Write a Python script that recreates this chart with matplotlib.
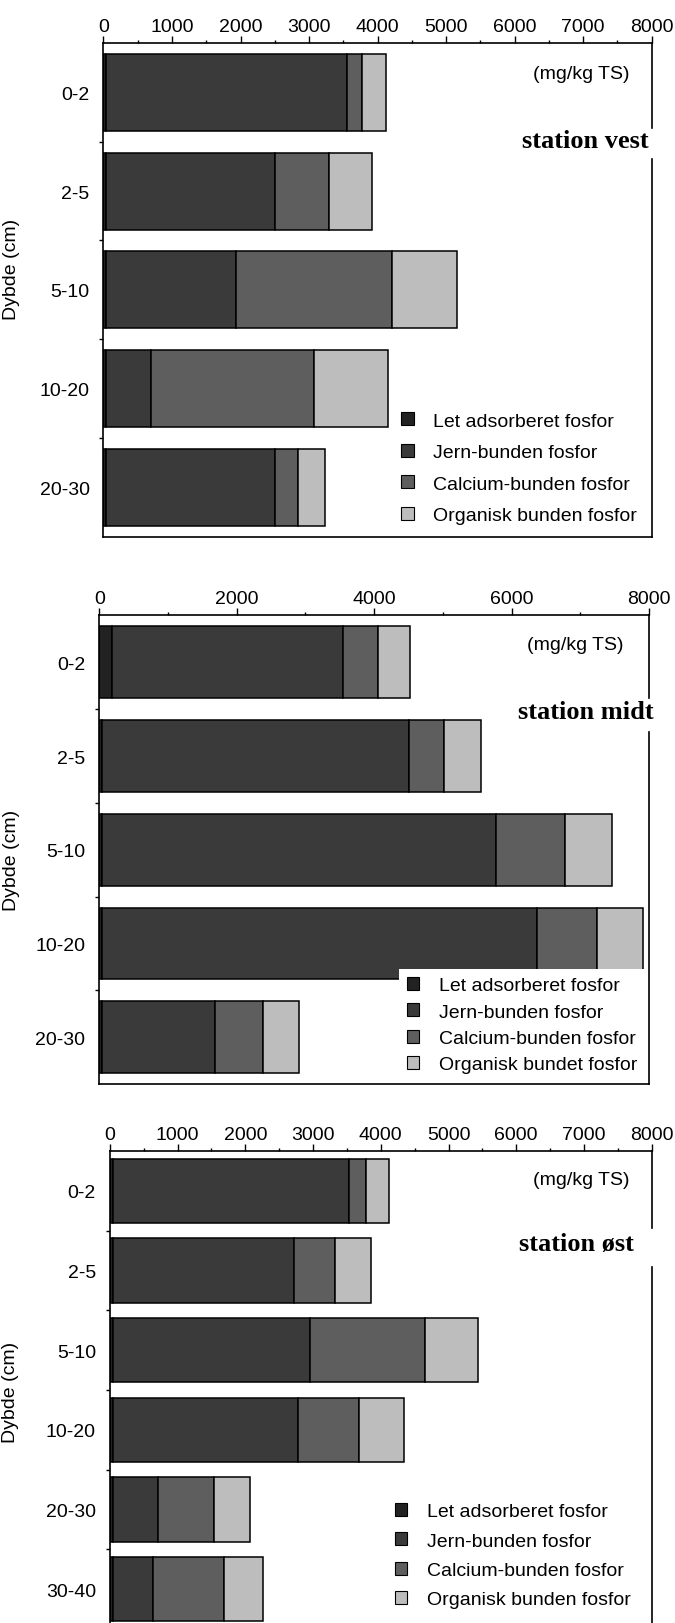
import numpy as np
import matplotlib
matplotlib.use("Agg")
import matplotlib.pyplot as plt
from matplotlib.patches import Patch

plt.rcParams['font.family'] = ['Liberation Sans', 'DejaVu Sans']

# fosfor fractions (mg/kg TS)
vest_depths = ["0-2", "2-5", "5-10", "10-20", "20-30"]
vest_let = [40, 30, 30, 30, 30]
vest_fe = [3510, 2480, 1900, 660, 2470]
vest_ca = [226, 779, 2281, 2376, 333]
vest_org = [346, 629, 943, 1088, 396]

midt_depths = ["0-2", "2-5", "5-10", "10-20", "20-30"]
midt_let = [190, 40, 40, 40, 40]
midt_fe = [3352, 4462, 5728, 6330, 1640]
midt_ca = [521, 514, 1003, 871, 709]
midt_org = [457, 533, 696, 665, 514]

ost_depths = ["0-2", "2-5", "5-10", "10-20", "20-30", "30-40"]
ost_let = [40, 40, 40, 40, 40, 40]
ost_fe = [3486, 2679, 2914, 2736, 665, 595]
ost_ca = [261, 610, 1703, 896, 826, 1055]
ost_org = [330, 521, 781, 667, 540, 572]

labels_a = ["Let adsorberet fosfor", "Jern-bunden fosfor",
            "Calcium-bunden fosfor", "Organisk bunden fosfor"]
labels_b = ["Let adsorberet fosfor", "Jern-bunden fosfor",
            "Calcium-bunden fosfor", "Organisk bundet fosfor"]

colors = ["#222222", "#3a3a3a", "#5e5e5e", "#bdbdbd"]
FS = 14


def draw_panel(ax, depths, series, legend_labels, station, xticks, cfg):
    y = np.arange(len(depths))
    left = np.zeros(len(depths))
    for vals, col in zip(series, colors):
        ax.barh(y, vals, left=left, height=cfg["bar_h"], color=col,
                edgecolor="black", linewidth=1.1, zorder=2)
        left += np.array(vals)

    ax.set_xlim(0, 8000)
    ax.set_ylim(len(depths) - 0.5, -0.5)

    # top axis ticks
    ax.xaxis.tick_top()
    ax.set_xticks(xticks)
    ax.set_xticklabels([str(t) for t in xticks], fontsize=FS)
    ax.set_xticks(np.arange(0, 8001, cfg["minor"]), minor=True)
    ax.tick_params(axis="x", which="major", direction="out", length=4.8,
                   width=1.0, pad=1)
    ax.tick_params(axis="x", which="minor", direction="out", length=2.4,
                   width=1.0)

    # depth labels, ticks between bars
    ax.set_yticks(y)
    ax.set_yticklabels(depths, fontsize=FS)
    ax.set_yticks(np.arange(len(depths) - 1) + 0.5, minor=True)
    ax.tick_params(axis="y", which="major", length=0, pad=10)
    ax.tick_params(axis="y", which="minor", direction="out", length=3,
                   width=1.0)
    ax.set_ylabel("Dybde (cm)", fontsize=FS)
    ax.yaxis.set_label_coords(*cfg["ylab"])

    for s in ["left", "top", "bottom"]:
        ax.spines[s].set_linewidth(1.2)
    ax.spines["right"].set_visible(False)
    g0, g1 = cfg["gap"]
    for a, b in [(0, g0), (g1, 1)]:
        ax.plot([1, 1], [a, b], color="black", lw=1.2,
                transform=ax.transAxes, clip_on=False, zorder=3)

    ax.text(*cfg["unit"], "(mg/kg TS)", transform=ax.transAxes,
            ha="center", va="center", fontsize=FS)
    ax.text(*cfg["station"], station, transform=ax.transAxes,
            ha="right", va="center", fontsize=19, fontweight="bold",
            family="Liberation Serif")

    handles = [Patch(facecolor=c, edgecolor="black", linewidth=0.8)
               for c in colors]
    leg = ax.legend(handles, legend_labels, loc="upper left",
                    bbox_to_anchor=cfg["leg"], fontsize=FS,
                    frameon=cfg["leg_frame"], borderpad=cfg["leg_pad"],
                    handlelength=0.65, handleheight=0.65, handletextpad=1.0,
                    labelspacing=cfg["leg_space"], borderaxespad=0)
    if cfg["leg_frame"]:
        leg.get_frame().set_facecolor("white")
        leg.get_frame().set_edgecolor("none")
        leg.get_frame().set_alpha(1)
        leg.get_frame().set_boxstyle("square", pad=0)
    leg.set_zorder(5)


fig = plt.figure(figsize=(6.75, 16.24), dpi=100)

ax1 = fig.add_axes([0.1533, 0.6689, 0.8121, 0.3040])
draw_panel(ax1, vest_depths, [vest_let, vest_fe, vest_ca, vest_org],
           labels_a, "station vest", np.arange(0, 8001, 1000),
           dict(bar_h=0.78, minor=500, ylab=(-0.153, 0.544),
                gap=(0.766, 0.827), unit=(0.871, 0.939),
                station=(0.995, 0.803), leg=(0.5427, 0.252),
                leg_frame=False, leg_pad=0, leg_space=0.73))

ax2 = fig.add_axes([0.1471, 0.3319, 0.8144, 0.2885])
draw_panel(ax2, midt_depths, [midt_let, midt_fe, midt_ca, midt_org],
           labels_b, "station midt", np.arange(0, 8001, 2000),
           dict(bar_h=0.765, minor=1000, ylab=(-0.145, 0.480),
                gap=(0.752, 0.824), unit=(0.865, 0.939),
                station=(1.009, 0.794), leg=(0.545, 0.2455),
                leg_frame=True, leg_pad=0.4, leg_space=0.47))

ax3 = fig.add_axes([0.1627, -0.0037, 0.8028, 0.2943])
draw_panel(ax3, ost_depths, [ost_let, ost_fe, ost_ca, ost_org],
           labels_a, "station øst", np.arange(0, 8001, 1000),
           dict(bar_h=0.81, minor=500, ylab=(-0.167, 0.498),
                gap=(0.758, 0.84), unit=(0.8695, 0.940),
                station=(0.968, 0.8075), leg=(0.5254, 0.264),
                leg_frame=False, leg_pad=0, leg_space=0.62))

fig.savefig("out.png", dpi=100)
